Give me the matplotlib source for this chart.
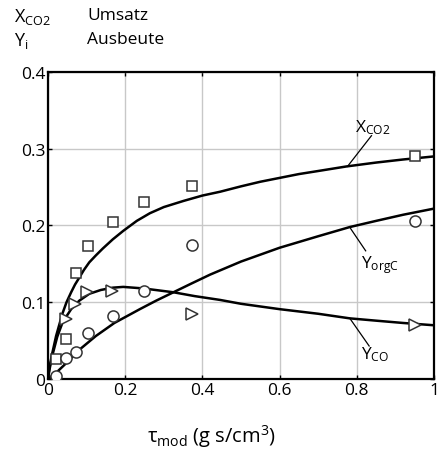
import matplotlib
matplotlib.use("Agg")
import matplotlib.pyplot as plt

plt.rcParams.update({
    "font.family": ["Open Sans", "DejaVu Sans"],
    "font.size": 12,
    "mathtext.fontset": "custom",
    "mathtext.rm": "Open Sans",
    "mathtext.it": "Open Sans:italic",
    "mathtext.default": "rm",
})

# measured points
tau_pts = [0.020, 0.047, 0.072, 0.103, 0.168, 0.248, 0.374, 0.951]
x_co2_pts = [0.026, 0.052, 0.138, 0.173, 0.204, 0.231, 0.252, 0.291]
y_orgc_pts = [0.004, 0.027, 0.035, 0.060, 0.082, 0.115, 0.175, 0.206]
tau_co_pts = [0.047, 0.071, 0.102, 0.166, 0.374, 0.951]
y_co_pts = [0.078, 0.098, 0.113, 0.115, 0.085, 0.070]

# model curves
tau_x = [0, 0.003, 0.01, 0.021, 0.03, 0.038, 0.048, 0.06, 0.07, 0.081, 0.093,
         0.107, 0.124, 0.142, 0.168, 0.195, 0.23, 0.264, 0.3, 0.351, 0.4,
         0.446, 0.5, 0.55, 0.6, 0.65, 0.7, 0.774, 0.85, 0.92, 1.0]
x_co2_fit = [0, 0.013, 0.031, 0.056, 0.072, 0.086, 0.100, 0.113, 0.123, 0.132,
             0.142, 0.152, 0.161, 0.170, 0.182, 0.193, 0.206, 0.216, 0.224,
             0.232, 0.239, 0.244, 0.251, 0.257, 0.262, 0.267, 0.271, 0.277,
             0.282, 0.286, 0.290]

tau_co = [0, 0.005, 0.012, 0.024, 0.038, 0.06, 0.081, 0.107, 0.137, 0.168,
          0.195, 0.247, 0.325, 0.38, 0.446, 0.5, 0.6, 0.7, 0.782, 0.85, 0.92,
          1.0]
y_co_fit = [0, 0.015, 0.032, 0.055, 0.074, 0.091, 0.102, 0.111, 0.116, 0.119,
            0.120, 0.118, 0.113, 0.108, 0.103, 0.098, 0.091, 0.085, 0.079,
            0.076, 0.073, 0.070]

tau_org = [0, 0.021, 0.05, 0.081, 0.124, 0.172, 0.238, 0.28, 0.325, 0.37,
           0.42, 0.5, 0.55, 0.6, 0.7, 0.782, 0.85, 0.92, 1.0]
y_orgc_fit = [0, 0.008, 0.022, 0.038, 0.056, 0.073, 0.091, 0.102, 0.113,
              0.124, 0.136, 0.153, 0.162, 0.171, 0.186, 0.198, 0.206, 0.214,
              0.222]

xticks = [0, 0.2, 0.4, 0.6, 0.8, 1.0]
xticklabels = ["0", "0.2", "0.4", "0.6", "0.8", "1"]
yticks = [0, 0.1, 0.2, 0.3, 0.4]
yticklabels = ["0", "0.1", "0.2", "0.3", "0.4"]

fig = plt.figure(figsize=(4.41, 4.52), dpi=100)
ax = fig.add_axes([0.1088, 0.1593, 0.8753, 0.6792])

ax.grid(True, color="#c8c8c8", lw=1.0)
ax.set_axisbelow(True)

lw = 1.8
ax.plot(tau_x, x_co2_fit, color="black", lw=lw)
ax.plot(tau_co, y_co_fit, color="black", lw=lw)
ax.plot(tau_org, y_orgc_fit, color="black", lw=lw)

mk = dict(linestyle="none", markerfacecolor="white", markeredgecolor="#333333",
          markeredgewidth=1.1, zorder=3)
ax.plot(tau_pts, x_co2_pts, marker="s", markersize=7, **mk)
ax.plot(tau_pts, y_orgc_pts, marker="o", markersize=8, **mk)
ax.plot(tau_co_pts, y_co_pts, marker=">", markersize=8, **mk)

# curve labels with leader lines
ax.plot([0.838, 0.776], [0.317, 0.277], color="black", lw=0.9)
ax.text(0.795, 0.316, r"X$_{\rm CO2}$", fontsize=12.5, ha="left", va="bottom")
ax.plot([0.823, 0.784], [0.167, 0.196], color="black", lw=0.9)
ax.text(0.81, 0.150, r"Y$_{\rm orgC}$", fontsize=12.5, ha="left", va="center")
ax.plot([0.832, 0.782], [0.043, 0.079], color="black", lw=0.9)
ax.text(0.81, 0.033, r"Y$_{\rm CO}$", fontsize=12.5, ha="left", va="center")

ax.set_xlim(0, 1)
ax.set_ylim(0, 0.4)
ax.set_xticks(xticks)
ax.set_xticklabels(xticklabels)
ax.set_yticks(yticks)
ax.set_yticklabels(yticklabels)
ax.tick_params(direction="in", length=3, width=1, top=True, right=True,
               labelsize=12.5, pad=2)
for s in ax.spines.values():
    s.set_linewidth(1.6)

# axis title sits left of centre in the original
fig.text(211 / 441, 1 - 437 / 452, r"$\tau_{\rm mod}$ (g s/cm$^3$)",
         fontsize=14.5, ha="center", va="center")

fig.text(14 / 441, 1 - 17 / 452, r"X$_{\rm CO2}$", fontsize=13, va="center")
fig.text(87 / 441, 1 - 16 / 452, "Umsatz", fontsize=12.5, va="center")
fig.text(14 / 441, 1 - 41 / 452, r"Y$_{\rm i}$", fontsize=13, va="center")
fig.text(87 / 441, 1 - 40 / 452, "Ausbeute", fontsize=12.5, va="center")

fig.savefig("out.png", dpi=100)
